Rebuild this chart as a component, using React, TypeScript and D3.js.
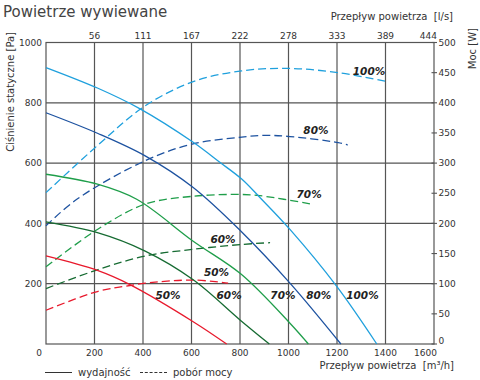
import React from "react";
import * as d3 from "d3";

const flowTicks = [0, 200, 400, 600, 800, 1000, 1200, 1400, 1600];
const lsLabels = ["56", "111", "167", "222", "278", "333", "389", "444"];
const paTicks = [200, 400, 600, 800, 1000];
const paGrid = [200, 400, 600, 800];
const wTicks = [0, 50, 100, 150, 200, 250, 300, 350, 400, 450, 500];

// pressure curves (solid): flow m3/h -> Pa
const p100Flow = [0, 212, 388, 607, 718, 807, 882, 1006, 1199, 1364];
const p100Pa = [917, 849, 780, 669, 602, 547, 486, 380, 191, 0];
const p80Flow = [0, 212, 409, 607, 804, 1006, 1216];
const p80Pa = [767, 699, 624, 519, 374, 202, 0];
const p70Flow = [0, 212, 374, 607, 804, 1006, 1082];
const p70Pa = [563, 530, 480, 341, 232, 69, 0];
const p60Flow = [0, 212, 409, 607, 800, 921];
const p60Pa = [405, 369, 308, 213, 80, 0];
const p50Flow = [0, 212, 346, 607, 745];
const p50Pa = [292, 244, 197, 74, 0];

// power curves (dashed): flow m3/h -> W
const w100Flow = [0, 212, 409, 607, 807, 1006, 1205, 1398];
const w100W = [251, 329, 395, 435, 453, 457, 450, 436];
const w80Flow = [0, 127, 409, 607, 807, 896, 1006, 1205, 1244];
const w80W = [196, 240, 304, 332, 343, 346, 344, 334, 330];
const w70Flow = [0, 212, 409, 607, 800, 882, 1096];
const w70W = [128, 190, 232, 245, 248, 246, 232];
const w60Flow = [0, 212, 409, 607, 804, 924];
const w60W = [92, 123, 146, 157, 165, 168];
const w50Flow = [0, 212, 346, 409, 607, 751];
const w50W = [56, 87, 97, 101, 106, 101];

const seriesColors = ["#1fa0dd", "#1d52a0", "#1f9e4a", "#166b32", "#e8192c"];

// percentage annotations: text, flow, Pa
const annText = ["100%", "80%", "70%", "60%", "50%", "50%", "60%", "70%", "80%", "100%"];
const annFlow = [1332, 1113, 1085, 730, 703, 503, 755, 977, 1125, 1305];
const annPa = [892, 695, 484, 335, 227, 149, 149, 148, 148, 149];

const FONT = "DejaVu Sans, Verdana, sans-serif";

export default function App() {
  const L = 46, R = 434, T = 42.5, B = 344;
  const x = d3.scaleLinear().domain([0, 1600]).range([L, R]);
  const yP = d3.scaleLinear().domain([0, 1000]).range([B, T]);
  const yW = d3.scaleLinear().domain([0, 500]).range([B, T]);

  const mk = (fl: number[], vs: number[], ys: d3.ScaleLinear<number, number>) =>
    d3.line<number>().x((_, i) => x(fl[i])).y((v) => ys(v)).curve(d3.curveCatmullRom.alpha(0.5))(vs) || "";

  const pSeries = [
    [p100Flow, p100Pa],
    [p80Flow, p80Pa],
    [p70Flow, p70Pa],
    [p60Flow, p60Pa],
    [p50Flow, p50Pa],
  ];
  const wSeries = [
    [w100Flow, w100W],
    [w80Flow, w80W],
    [w70Flow, w70W],
    [w60Flow, w60W],
    [w50Flow, w50W],
  ];

  const gridColor = "#555";
  const textColor = "#333";

  return (
    <svg width={480} height={380} style={{ position: "absolute", left: 0, top: 0 }} fontFamily={FONT}>
      <rect width={480} height={380} fill="#fff" />
      <text x={3} y={17} fontSize={15} fill="#444">Powietrze wywiewane</text>

      {/* grid */}
      {flowTicks.slice(1, -1).map((f) => (
        <line key={"vg" + f} x1={x(f)} x2={x(f)} y1={T} y2={B} stroke={gridColor} strokeWidth={1.2} />
      ))}
      {paGrid.map((p) => (
        <line key={"hg" + p} x1={L} x2={R} y1={yP(p)} y2={yP(p)} stroke={gridColor} strokeWidth={1.2} />
      ))}
      <rect x={L} y={T} width={R - L} height={B - T} fill="none" stroke={gridColor} strokeWidth={1.2} />

      {/* right ticks */}
      {wTicks.map((w) => (
        <line key={"rt" + w} x1={R - 2.5} x2={R + 3} y1={yW(w)} y2={yW(w)} stroke={gridColor} strokeWidth={1.1} />
      ))}

      {/* curves */}
      {wSeries.map((s, i) => (
        <path key={"w" + i} d={mk(s[0], s[1], yW)} fill="none" stroke={seriesColors[i]} strokeWidth={1.3} strokeDasharray="8,4" />
      ))}
      {pSeries.map((s, i) => (
        <path key={"p" + i} d={mk(s[0], s[1], yP)} fill="none" stroke={seriesColors[i]} strokeWidth={1.3} />
      ))}

      {/* annotations */}
      {annText.map((t, i) => (
        <text key={"a" + i} x={x(annFlow[i])} y={yP(annPa[i])} fontSize={10.5} fontWeight="bold" fontStyle="italic" textAnchor="middle" fill="#222">
          {t}
        </text>
      ))}

      {/* left axis labels */}
      {paTicks.map((p) => (
        <text key={"lp" + p} x={42} y={yP(p)} dy="0.35em" fontSize={9} textAnchor="end" fill={textColor}>{p}</text>
      ))}
      {/* bottom labels */}
      {flowTicks.map((f, i) => (
        <text key={"bl" + f} x={i === 0 ? 39 : i === flowTicks.length - 1 ? 437 : x(f)} y={356} fontSize={9}
          textAnchor={i === flowTicks.length - 1 ? "end" : "middle"} fill={textColor}>{f}</text>
      ))}
      {/* top labels */}
      {lsLabels.map((s, i) => (
        <text key={"tl" + s} x={i === lsLabels.length - 1 ? 437 : x(flowTicks[i + 1])} y={38.5} fontSize={9}
          textAnchor={i === lsLabels.length - 1 ? "end" : "middle"} fill={textColor}>{s}</text>
      ))}
      {/* right labels */}
      {wTicks.map((w) => (
        <text key={"rl" + w} x={438.5} y={yW(w)} dy={w === 0 ? "0" : "0.35em"} fontSize={9} fill={textColor}>{w}</text>
      ))}

      {/* axis titles */}
      <text x={453} y={20} fontSize={10} textAnchor="end" fill={textColor} style={{ whiteSpace: "pre" }}>Przepływ powietrza  [l/s]</text>
      <text x={454} y={369} fontSize={10} textAnchor="end" fill={textColor} style={{ whiteSpace: "pre" }}>Przepływ powietrza  [m³/h]</text>
      <text transform="translate(13.5,32) rotate(-90)" fontSize={10} textAnchor="end" fill={textColor}>Ciśnienie statyczne [Pa]</text>
      <text transform="translate(476,28) rotate(-90)" fontSize={10} textAnchor="end" fill={textColor}>Moc [W]</text>

      {/* legend */}
      <line x1={45} x2={72} y1={372.5} y2={372.5} stroke="#333" strokeWidth={1} />
      <text x={78} y={376} fontSize={10} fill={textColor}>wydajność</text>
      <line x1={140} x2={167} y1={372.5} y2={372.5} stroke="#333" strokeWidth={1} strokeDasharray="3,1.8" />
      <text x={173} y={376} fontSize={10} fill={textColor}>pobór mocy</text>
    </svg>
  );
}
